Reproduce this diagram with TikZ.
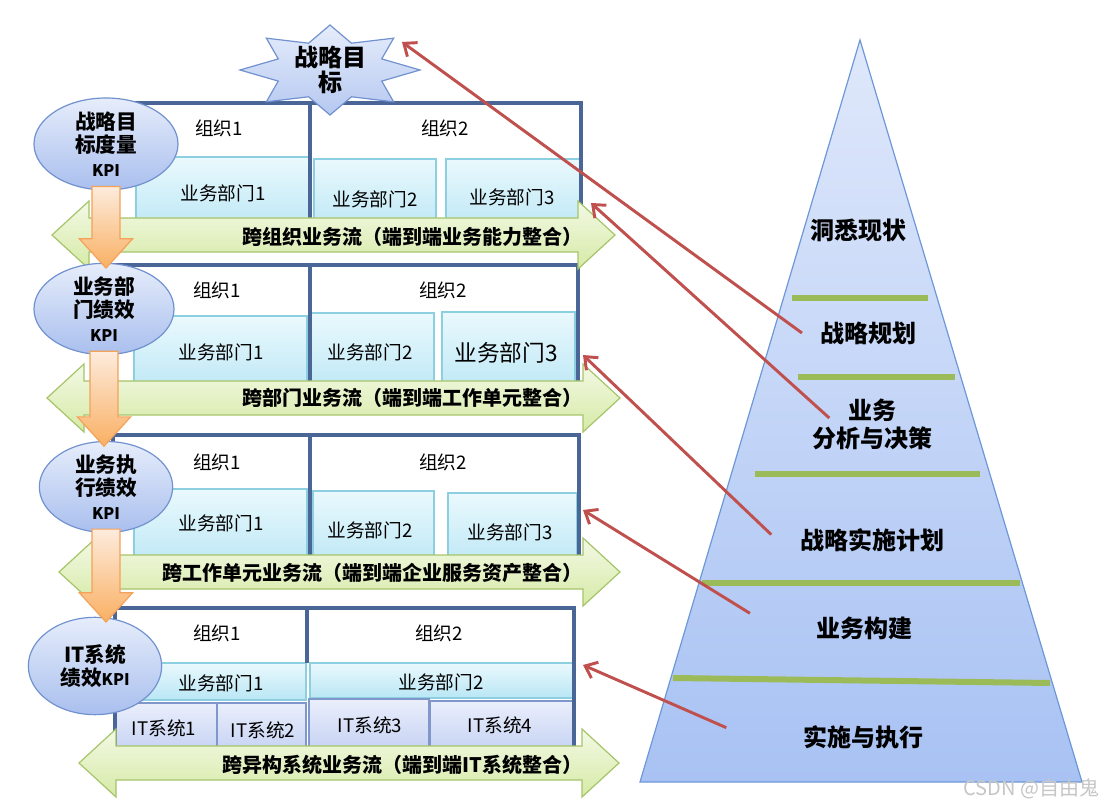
\documentclass[tikz,border=0pt]{standalone}
\usepackage{fontspec}
\setmainfont{Noto Sans CJK SC}
\usetikzlibrary{arrows.meta,shapes.geometric,calc}

\definecolor{framebl}{HTML}{4A6696}
\definecolor{deptln}{HTML}{8CCFE0}
\definecolor{depttop}{HTML}{EAF9FD}
\definecolor{deptbot}{HTML}{B9E6F5}
\definecolor{ittop}{HTML}{EBEFFC}
\definecolor{itbot}{HTML}{BCCBF1}
\definecolor{itln}{HTML}{8097CC}
\definecolor{kpitop}{HTML}{E6EDFB}
\definecolor{kpibot}{HTML}{A9BFEE}
\definecolor{kpiln}{HTML}{7292CF}
\definecolor{flowtop}{HTML}{F3F9E5}
\definecolor{flowbot}{HTML}{D6EAA6}
\definecolor{flowln}{HTML}{A6C46A}
\definecolor{ortop}{HTML}{FDEBDD}
\definecolor{orbot}{HTML}{F9B063}
\definecolor{orln}{HTML}{F4A259}
\definecolor{pyrtop}{HTML}{DFE8FB}
\definecolor{pyrbot}{HTML}{A8C2F3}
\definecolor{pyrln}{HTML}{6D98D8}
\definecolor{sepgreen}{HTML}{9BBB59}
\definecolor{arrred}{HTML}{C0504D}

\tikzset{
  frame/.style={draw=framebl, line width=2.6pt},
  dept/.style={draw=deptln, line width=0.8pt, top color=depttop, bottom color=deptbot},
  itbox/.style={draw=itln, line width=0.8pt, top color=ittop, bottom color=itbot},
  kpi/.style={ellipse, draw=kpiln, line width=0.9pt, top color=kpitop, bottom color=kpibot,
    align=center, inner sep=0pt, font=\bfseries\fontsize{15.5}{17.5}\selectfont},
  flow/.style={draw=flowln, line width=0.9pt, top color=flowtop, bottom color=flowbot},
  flowtxt/.style={anchor=east, inner sep=1pt, font=\bfseries\fontsize{15}{17}\selectfont},
  down/.style={draw=orln, line width=0.9pt, top color=ortop, bottom color=orbot},
  orgtxt/.style={inner sep=1pt, font=\fontsize{14}{16}\selectfont},
  stage/.style={align=center, font=\bfseries\fontsize{18}{21}\selectfont},
  sepline/.style={draw=sepgreen, line width=4.5pt},
  redarr/.style={draw=arrred, line width=2.2pt, -{Straight Barb[length=8pt,width=13pt]}},
}

\begin{document}
\begin{tikzpicture}[x=0.75pt,y=-0.75pt]
\useasboundingbox (0,0) rectangle (1108,809);
\fill[white] (0,0) rectangle (1108,809);

% band 1
\fill[white] (115,103) rectangle (581,235);
\path[dept] (136,157) rectangle (309,235);
\path[dept] (314,159) rectangle (436,235);
\path[dept] (446,159) rectangle (580,235);
\draw[frame] (115,235) -- (115,103) -- (581,103) -- (581,235);
\draw[frame] (310,103) -- (310,235);
\node[orgtxt] (o11) at (219,128) {组织1};
\node[orgtxt] (o12) at (445,128) {组织2};
\node[orgtxt] (d11) at (223,193) {业务部门1};
\node[orgtxt] (d12) at (375,199) {业务部门2};
\node[orgtxt] (d13) at (512,197) {业务部门3};

% band 2
\fill[white] (113,265) rectangle (578,398);
\path[dept] (134,316) rectangle (307,398);
\path[dept] (311,313) rectangle (434,398);
\path[dept] (442,312) rectangle (575,398);
\draw[frame] (113,398) -- (113,265) -- (578,265) -- (578,398);
\draw[frame] (310,265) -- (310,398);
\node[orgtxt] (o21) at (217,290) {组织1};
\node[orgtxt] (o22) at (443,290) {组织2};
\node[orgtxt] (d21) at (221,352) {业务部门1};
\node[orgtxt] (d22) at (370,352) {业务部门2};
\node[inner sep=1pt, font=\fontsize{17}{19}\selectfont] (d23) at (506,353) {业务部门3};

% band 3
\fill[white] (113,435) rectangle (579,572);
\path[dept] (134,489) rectangle (307,572);
\path[dept] (313,491) rectangle (434,572);
\path[dept] (448,493) rectangle (577,572);
\draw[frame] (113,572) -- (113,435) -- (579,435) -- (579,572);
\draw[frame] (310,435) -- (310,572);
\node[orgtxt] (o31) at (217,462) {组织1};
\node[orgtxt] (o32) at (443,462) {组织2};
\node[orgtxt] (d31) at (221,523) {业务部门1};
\node[orgtxt] (d32) at (370,530) {业务部门2};
\node[orgtxt] (d33) at (510,532) {业务部门3};

% band 4
\fill[white] (115,608) rectangle (574,763);
\path[dept] (140,663) rectangle (306,700);
\path[dept] (310,663) rectangle (575,698);
\path[itbox] (115,703) rectangle (217,763);
\path[itbox] (217,703) rectangle (306,763);
\path[itbox] (309,699) rectangle (429,763);
\path[itbox] (430,701) rectangle (574,763);
\draw[frame] (115,763) -- (115,608) -- (574,608) -- (574,763);
\draw[frame] (307,608) -- (307,663);
\node[orgtxt] (o41) at (217,633) {组织1};
\node[orgtxt] (o42) at (439,633) {组织2};
\node[orgtxt] (d41) at (221,683) {业务部门1};
\node[orgtxt] (d42) at (441,682) {业务部门2};
\node[orgtxt] (it1) at (164,728) {IT系统1};
\node[orgtxt] (it2) at (263,730) {IT系统2};
\node[orgtxt] (it3) at (370,725) {IT系统3};
\node[orgtxt] (it4) at (500,725) {IT系统4};

% flows
\foreach \xa/\xb/\yc in {52/615/235, 47/620/398, 59/620/572, 79/619/763}
  \path[flow] (\xa,\yc) -- (\xa+37,\yc-34) -- (\xa+37,\yc-17) -- (\xb-37,\yc-17)
    -- (\xb-37,\yc-34) -- (\xb,\yc) -- (\xb-37,\yc+34) -- (\xb-37,\yc+17)
    -- (\xa+37,\yc+17) -- (\xa+37,\yc+34) -- cycle;
\node[flowtxt] (f1) at (584,237) {跨组织业务流（端到端业务能力整合）};
\node[flowtxt] (f2) at (584,398) {跨部门业务流（端到端工作单元整合）};
\node[flowtxt] (f3) at (584,573) {跨工作单元业务流（端到端企业服务资产整合）};
\node[flowtxt] (f4) at (584,765) {跨异构系统业务流（端到端IT系统整合）};

% KPI ellipses
\node[kpi, minimum width=108pt, minimum height=69pt] (e1) at (106,144)
  {战略目\\标度量\\{\fontsize{12}{14}\selectfont KPI}};
\node[kpi, minimum width=105pt, minimum height=64pt] (e2) at (104,309)
  {业务部\\门绩效\\{\fontsize{12}{14}\selectfont KPI}};
\node[kpi, minimum width=100pt, minimum height=64pt] (e3) at (106,487)
  {业务执\\行绩效\\{\fontsize{12}{14}\selectfont KPI}};
\node[kpi, minimum width=100pt, minimum height=73pt] (e4) at (95,666)
  {IT系统\\绩效{\fontsize{12}{14}\selectfont KPI}};

\foreach \a/\b in {e1/e2,e2/e3,e3/e4}
  \path[down] let \p1=(\a.south), \p2=(\b.north) in
    (\x1-10.5pt,\y1+3pt) -- (\x1-10.5pt,\y2+18pt) -- (\x1-20pt,\y2+18pt) -- (\x1,\y2-4pt)
    -- (\x1+20pt,\y2+18pt) -- (\x1+10.5pt,\y2+18pt) -- (\x1+10.5pt,\y1+3pt) -- cycle;

% goal star
\path[draw=kpiln, line width=0.9pt, top color=kpitop, bottom color=kpibot!80!kpitop]
  plot[samples at={0,...,15}, variable=\i]
  ({330+(isodd(\i)?56:90)*cos(90+22.5*\i)}, {70+(isodd(\i)?29:45)*sin(90+22.5*\i)}) -- cycle;
\node[stage, font=\bfseries\fontsize{18}{19}\selectfont] (goal) at (330,70) {战略目\\标};

% pyramid
\path[draw=pyrln, line width=0.9pt, top color=pyrtop, bottom color=pyrbot]
  (860,40) -- (1082,782) -- (640,782) -- cycle;
\draw[sepline] (792,298) -- (928,298);
\draw[sepline] (798,377) -- (955,377);
\draw[sepline] (755,474) -- (980,474);
\draw[sepline] (702,583) -- (1020,583);
\draw[sepline] (673,678) -- (1050,683);
\node[stage] (s1) at (858,230) {洞悉现状};
\node[stage] (s2) at (868,333) {战略规划};
\node[stage] (s3) at (872,424) {业务\\分析与决策};
\node[stage] (s4) at (872,540) {战略实施计划};
\node[stage] (s5) at (864,628) {业务构建};
\node[stage] (s6) at (863,737) {实施与执行};

% links
\coordinate (goaltip) at (402,42);
\coordinate (t1) at (591,203);
\coordinate (t2) at (583,355);
\coordinate (t3) at (583,510);
\coordinate (t4) at (583,665);
\draw[redarr] ([xshift=-10pt]s2.west) -- (goaltip);
\draw[redarr] ($(s3.west)+(22,-6)$) -- (t1);
\draw[redarr] ([shift={(-18pt,4pt)}]s4.west) -- (t2);
\draw[redarr] ([shift={(-46pt,11pt)}]s5.west) -- (t3);
\draw[redarr] ([shift={(-54pt,7pt)}]s6.west) -- (t4);

\node[anchor=east, text=gray!45, font=\fontsize{15}{17}\selectfont] (mark) at (1104,789) {CSDN @自由鬼};
\end{tikzpicture}
\end{document}
